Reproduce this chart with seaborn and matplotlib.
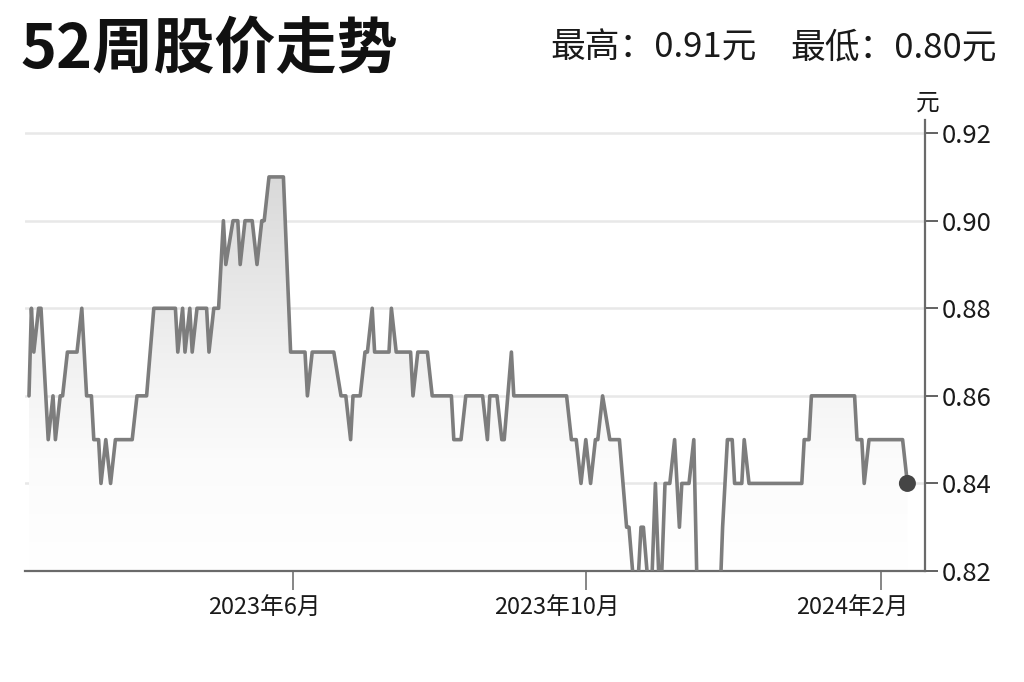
import matplotlib
matplotlib.use("Agg")
import matplotlib.pyplot as plt
import matplotlib.transforms as mtransforms
import numpy as np
import pandas as pd
import seaborn as sns
from matplotlib.colors import LinearSegmentedColormap

# ---- data (vertices of the price line) ----
dates = [
    "2023-02-11", "2023-02-12", "2023-02-13", "2023-02-15", "2023-02-16", "2023-02-19",
    "2023-02-21", "2023-02-22", "2023-02-24", "2023-02-25", "2023-02-27", "2023-03-03",
    "2023-03-05", "2023-03-07", "2023-03-09", "2023-03-10", "2023-03-12", "2023-03-13",
    "2023-03-15", "2023-03-17", "2023-03-19", "2023-03-26", "2023-03-28", "2023-04-01",
    "2023-04-04", "2023-04-13", "2023-04-14", "2023-04-16", "2023-04-17", "2023-04-19",
    "2023-04-20", "2023-04-22", "2023-04-26", "2023-04-27", "2023-04-29", "2023-05-01",
    "2023-05-03", "2023-05-04", "2023-05-07", "2023-05-09", "2023-05-10", "2023-05-12",
    "2023-05-15", "2023-05-17", "2023-05-19", "2023-05-20", "2023-05-22", "2023-05-28",
    "2023-05-31", "2023-06-06", "2023-06-07", "2023-06-09", "2023-06-18", "2023-06-21",
    "2023-06-23", "2023-06-25", "2023-06-26", "2023-06-29", "2023-07-01", "2023-07-02",
    "2023-07-04", "2023-07-05", "2023-07-11", "2023-07-12", "2023-07-14", "2023-07-20",
    "2023-07-21", "2023-07-23", "2023-07-27", "2023-07-29", "2023-08-06", "2023-08-07",
    "2023-08-10", "2023-08-12", "2023-08-19", "2023-08-21", "2023-08-22", "2023-08-25",
    "2023-08-27", "2023-08-28", "2023-08-31", "2023-09-01", "2023-09-23", "2023-09-25",
    "2023-09-27", "2023-09-29", "2023-10-01", "2023-10-03", "2023-10-05", "2023-10-06",
    "2023-10-08", "2023-10-11", "2023-10-15", "2023-10-18", "2023-10-19", "2023-10-22",
    "2023-10-24", "2023-10-25", "2023-10-28", "2023-10-30", "2023-11-01", "2023-11-03",
    "2023-11-05", "2023-11-07", "2023-11-09", "2023-11-10", "2023-11-13", "2023-11-15",
    "2023-11-17", "2023-11-25", "2023-11-27", "2023-11-29", "2023-12-01", "2023-12-02",
    "2023-12-05", "2023-12-06", "2023-12-08", "2023-12-30", "2023-12-31", "2024-01-02",
    "2024-01-03", "2024-01-21", "2024-01-22", "2024-01-24", "2024-01-25", "2024-01-27",
    "2024-02-10", "2024-02-12",
]
prices = [
    0.86, 0.88, 0.87, 0.88, 0.88, 0.85,
    0.86, 0.85, 0.86, 0.86, 0.87, 0.87,
    0.88, 0.86, 0.86, 0.85, 0.85, 0.84,
    0.85, 0.84, 0.85, 0.85, 0.86, 0.86,
    0.88, 0.88, 0.87, 0.88, 0.87, 0.88,
    0.87, 0.88, 0.88, 0.87, 0.88, 0.88,
    0.90, 0.89, 0.90, 0.90, 0.89, 0.90,
    0.90, 0.89, 0.90, 0.90, 0.91, 0.91,
    0.87, 0.87, 0.86, 0.87, 0.87, 0.86,
    0.86, 0.85, 0.86, 0.86, 0.87, 0.87,
    0.88, 0.87, 0.87, 0.88, 0.87, 0.87,
    0.86, 0.87, 0.87, 0.86, 0.86, 0.85,
    0.85, 0.86, 0.86, 0.85, 0.86, 0.86,
    0.85, 0.85, 0.87, 0.86, 0.86, 0.85,
    0.85, 0.84, 0.85, 0.84, 0.85, 0.85,
    0.86, 0.85, 0.85, 0.83, 0.83, 0.81,
    0.83, 0.83, 0.81, 0.84, 0.81, 0.84,
    0.84, 0.85, 0.83, 0.84, 0.84, 0.85,
    0.80, 0.80, 0.83, 0.85, 0.85, 0.84,
    0.84, 0.85, 0.84, 0.84, 0.85, 0.85,
    0.86, 0.86, 0.85, 0.85, 0.84, 0.85,
    0.85, 0.84,
]
y_ticks = [0.82, 0.84, 0.86, 0.88, 0.90, 0.92]
x_tick_dates = ["2023-06-01", "2023-10-01", "2024-02-01"]
x_tick_labels = ["2023年6月", "2023年10月", "2024年2月"]
title = "52周股价走势"
high_label = "最高：0.91元"
low_label = "最低：0.80元"
unit_label = "元"

# ---- style ----
sns.set_style("white")
plt.rcParams["font.family"] = ["Noto Sans CJK SC", "DejaVu Sans"]

df = pd.DataFrame({"date": pd.to_datetime(dates), "price": prices})

fig = plt.figure(figsize=(10.24, 6.82), dpi=100)
ax = fig.add_axes([25 / 1024, 111 / 682, 900 / 1024, 451 / 682])

xlim = (pd.Timestamp("2023-02-09 08:00"), pd.Timestamp("2024-02-19 08:00"))
ylim = (0.82, 0.923)

# gradient area under the line
poly = ax.fill_between(df["date"], df["price"], 0.70, color="none", lw=0)
cmap = LinearSegmentedColormap.from_list(
    "g", [(0.0, "#ffffff"), (0.25, "#fbfbfb"), (0.45, "#f2f2f2"), (1.0, "#d2d2d2")]
)
grad = np.linspace(1, 0, 256).reshape(-1, 1)
im = ax.imshow(grad, extent=[0, 1, 0, 1], transform=ax.transAxes, aspect="auto",
               cmap=cmap, vmin=0, vmax=1, zorder=1, interpolation="bilinear")
im.set_clip_path(poly.get_paths()[0], transform=ax.transData)

# line and last point
sns.lineplot(data=df, x="date", y="price", ax=ax, color="#7d7d7d", lw=2.6,
             estimator=None, sort=False, zorder=3)
sns.scatterplot(x=df["date"].iloc[-1:], y=df["price"].iloc[-1:], ax=ax, s=150,
                color="#454545", edgecolor="none", zorder=4)

ax.set_xlim(*xlim)
ax.set_ylim(*ylim)

# grid
ax.yaxis.grid(True, color="#e8e8e8", lw=1.8)
ax.xaxis.grid(False)
ax.set_axisbelow(True)

# axes
for s in ["left", "top"]:
    ax.spines[s].set_visible(False)
for s in ["right", "bottom"]:
    ax.spines[s].set_color("#6a6a6a")
    ax.spines[s].set_linewidth(1.6)

ax.yaxis.tick_right()
ax.set_yticks(y_ticks)
ax.set_yticklabels([f"{v:.2f}" for v in y_ticks])
ax.tick_params(axis="y", right=True, left=False, direction="out", length=9, width=1.3,
               color="#555555", labelsize=18.5, pad=3, labelcolor="#1a1a1a")

ax.set_xticks(pd.to_datetime(x_tick_dates))
ax.set_xticklabels(x_tick_labels)
ax.tick_params(axis="x", bottom=True, direction="out", length=14, width=1.1,
               color="#666666", labelsize=17, pad=5, labelcolor="#1a1a1a")
shift = mtransforms.ScaledTranslation(-0.29, 0, fig.dpi_scale_trans)
for lab in ax.get_xticklabels():
    lab.set_transform(lab.get_transform() + shift)
ax.set_xlabel("")
ax.set_ylabel("")

# texts
fig.text(928 / 1024, 1 - 103 / 682, unit_label, ha="center", va="center",
         fontsize=17, color="#1a1a1a")
fig.text(20 / 1024, 1 - 50 / 682, title, ha="left", va="center",
         fontsize=44, weight="black", color="#111111")
fig.text(997 / 1024, 1 - 48 / 682, low_label, ha="right", va="center",
         fontsize=25, color="#1a1a1a")
fig.text(757 / 1024, 1 - 48 / 682, high_label, ha="right", va="center",
         fontsize=25, color="#1a1a1a")

fig.savefig("out.png", dpi=100, facecolor="white")
